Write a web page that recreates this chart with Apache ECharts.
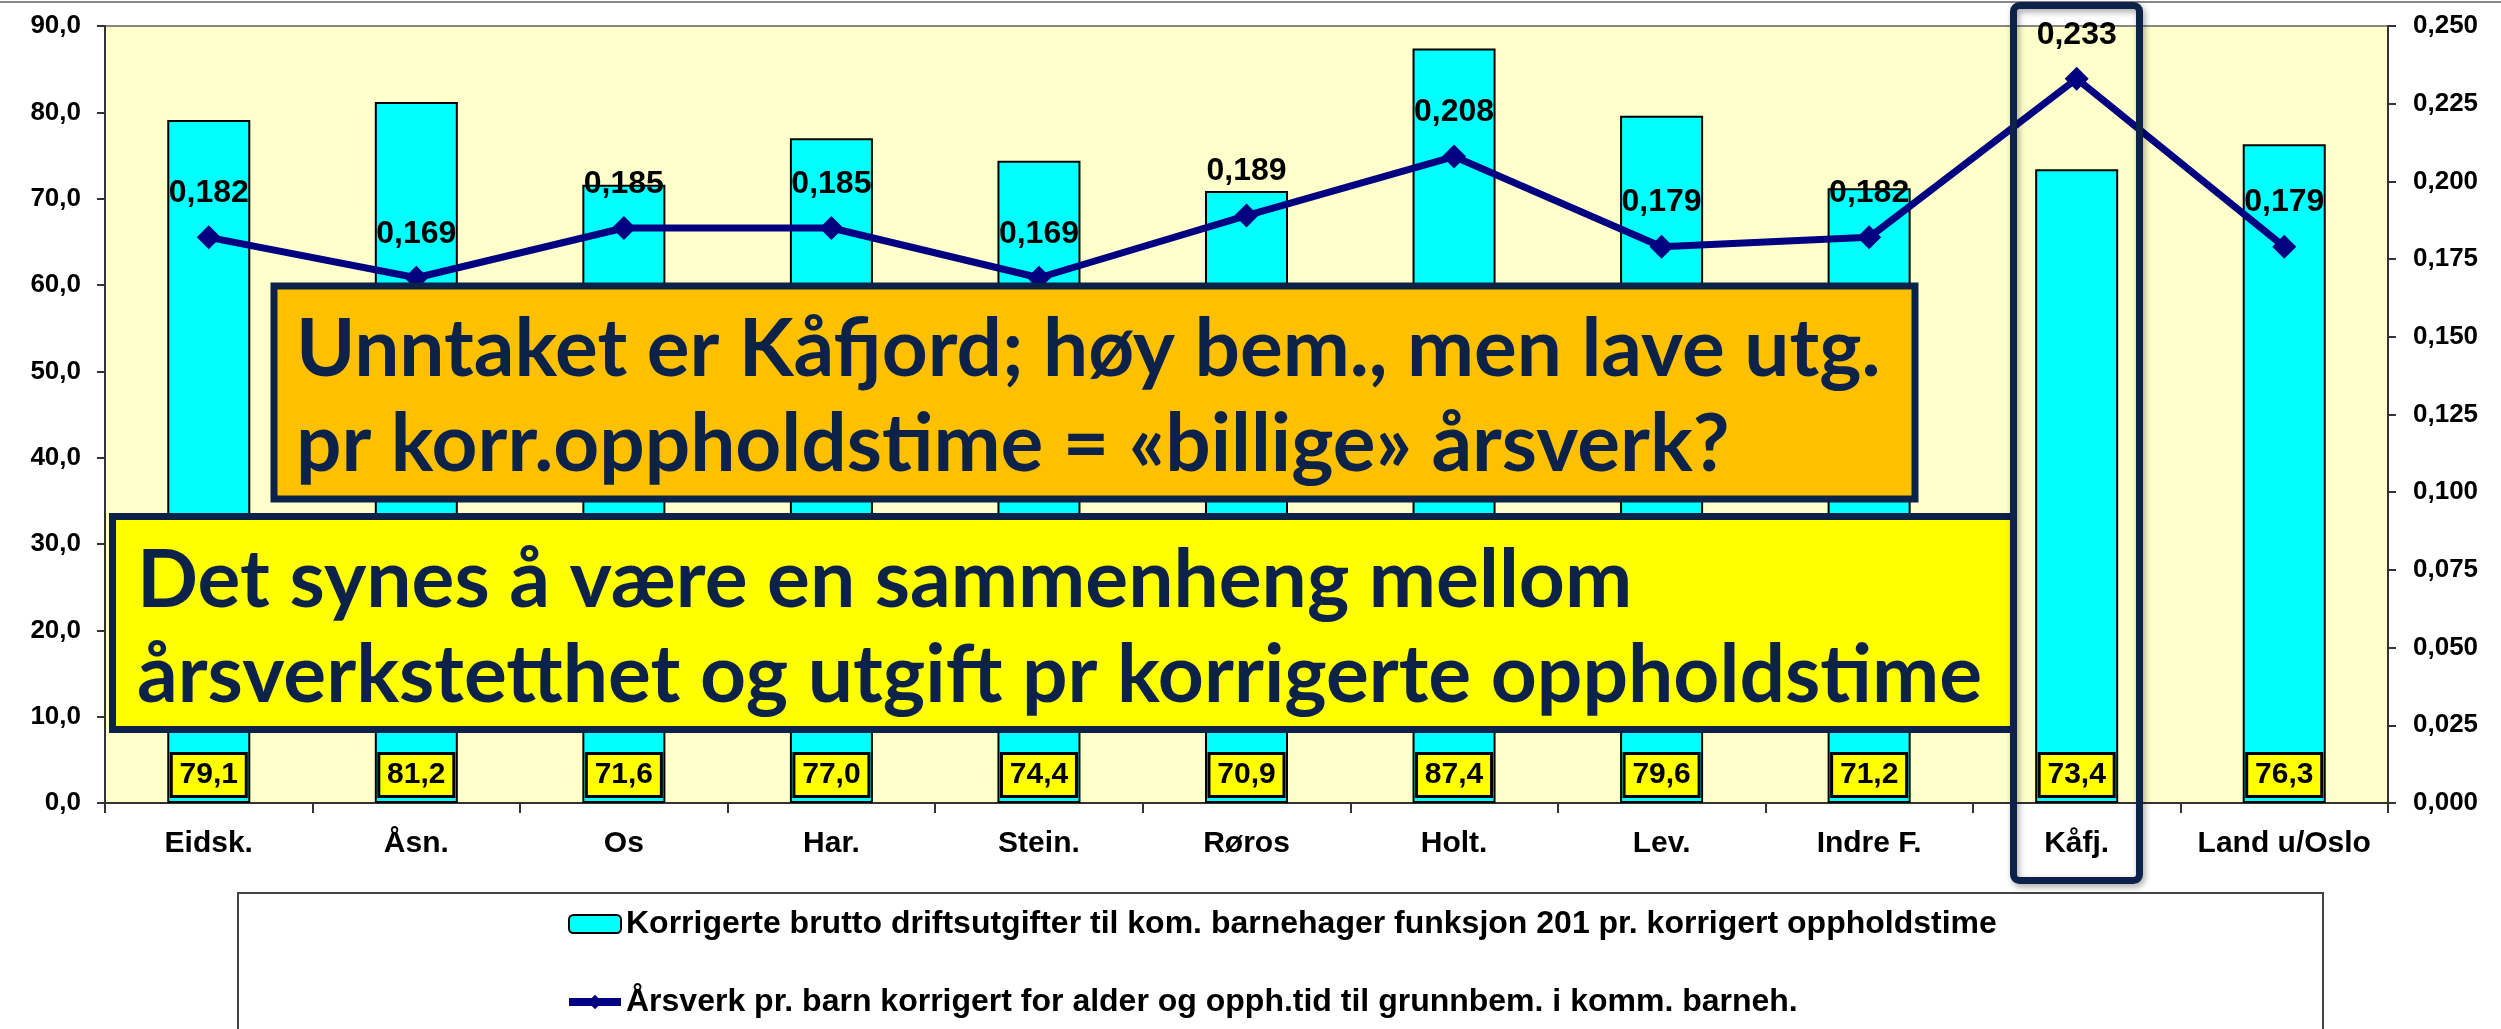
<!DOCTYPE html>
<html>
<head>
<meta charset="utf-8">
<script src="https://cdn.jsdelivr.net/npm/echarts@6/dist/echarts.min.js"></script>
<style>
html,body{margin:0;padding:0;background:#fff;}
#chart{width:2501px;height:1029px;}
</style>
</head>
<body>
<div id="chart"></div>
<script>
const categories = ['Eidsk.', 'Åsn.', 'Os', 'Har.', 'Stein.', 'Røros', 'Holt.', 'Lev.', 'Indre F.', 'Kåfj.', 'Land u/Oslo'];
const costValues = [79.1, 81.2, 71.6, 77.0, 74.4, 70.9, 87.4, 79.6, 71.2, 73.4, 76.3];
const staffValues = [0.182, 0.169, 0.185, 0.185, 0.169, 0.189, 0.208, 0.179, 0.182, 0.233, 0.179];
const costName = 'Korrigerte brutto driftsutgifter til kom. barnehager funksjon 201 pr. korrigert oppholdstime';
const staffName = 'Årsverk pr. barn korrigert for alder og opph.tid til grunnbem. i komm. barneh.';
const leftAxisTicks = { min: 0, max: 90, interval: 10 };
const rightAxisTicks = { min: 0, max: 0.25, interval: 0.025 };
const orangeLines = ['Unntaket er Kåfjord; høy bem., men lave utg.', 'pr korr.oppholdstime = «billige» årsverk?'];
const yellowLines = ['Det synes å være en sammenheng mellom', 'årsverkstetthet og utgift pr korrigerte oppholdstime'];

const ARIAL = 'Arial, "Liberation Sans", sans-serif';
const ANNO = 'Lato, "Open Sans", sans-serif';
const NAVY = '#0C2248';

function fitSize(text, family, target) {
  const ctx = document.createElement('canvas').getContext('2d');
  ctx.font = 'bold 100px ' + family;
  const w = ctx.measureText(text).width;
  return Math.round(100 * target / w * 10) / 10;
}
const orangeSize = fitSize(orangeLines[0], ANNO, 1585);
const yellowSize = fitSize(yellowLines[1], ANNO, 1846);

const comma = (v, d) => v.toFixed(d).replace('.', ',');

const chart = echarts.init(document.getElementById('chart'));
chart.setOption({
  backgroundColor: '#ffffff',
  animation: false,
  grid: { left: 105, right: 113, top: 26, bottom: 226, show: true, backgroundColor: '#FFFFCC', borderColor: '#888', borderWidth: 2 },
  legend: {
    orient: 'vertical', left: 565, top: 908, itemGap: 46, padding: 0,
    itemWidth: 52, itemHeight: 18,
    textStyle: { fontFamily: ARIAL, fontWeight: 'bold', fontSize: 32, color: '#000' },
    data: [
      { name: costName },
      { name: staffName, lineStyle: { width: 8, color: '#000080' }, itemStyle: { color: '#000080' } }
    ]
  },
  xAxis: {
    type: 'category', data: categories,
    axisLine: { lineStyle: { color: '#333', width: 2 } },
    axisTick: { show: true, length: 10, lineStyle: { color: '#333', width: 2 } },
    axisLabel: { interval: 0, fontFamily: ARIAL, fontWeight: 'bold', fontSize: 30, color: '#000', margin: 26 }
  },
  yAxis: [{
    type: 'value', min: leftAxisTicks.min, max: leftAxisTicks.max, interval: leftAxisTicks.interval,
    splitLine: { show: false },
    axisLine: { show: true, lineStyle: { color: '#333', width: 2 } },
    axisTick: { show: true, length: 8, lineStyle: { color: '#333', width: 2 } },
    axisLabel: { fontFamily: ARIAL, fontWeight: 'bold', fontSize: 26, color: '#000', margin: 24, formatter: v => comma(v, 1) }
  }, {
    type: 'value', min: rightAxisTicks.min, max: rightAxisTicks.max, interval: rightAxisTicks.interval,
    splitLine: { show: false },
    axisLine: { show: true, lineStyle: { color: '#333', width: 2 } },
    axisTick: { show: true, length: 8, lineStyle: { color: '#333', width: 2 } },
    axisLabel: { fontFamily: ARIAL, fontWeight: 'bold', fontSize: 26, color: '#000', margin: 25, formatter: v => comma(v, 3) }
  }],
  series: [{
    name: costName, type: 'bar', yAxisIndex: 0, data: costValues, barWidth: '40%',
    itemStyle: { color: '#00FFFF', borderColor: '#000', borderWidth: 2 },
    label: {
      show: true, position: 'insideBottom', distance: 8,
      formatter: p => comma(p.value, 1),
      fontFamily: ARIAL, fontWeight: 'bold', fontSize: 30, color: '#000',
      backgroundColor: '#FFFF00', borderColor: '#000', borderWidth: 3,
      width: 72, height: 40, lineHeight: 40, align: 'center', padding: 0
    },
    z: 2
  }, {
    name: staffName, type: 'line', yAxisIndex: 1, data: staffValues,
    symbol: 'diamond', symbolSize: 24,
    lineStyle: { color: '#000080', width: 7 },
    itemStyle: { color: '#000080' },
    label: { show: true, position: 'top', distance: 16, formatter: p => comma(p.value, 3),
      fontFamily: ARIAL, fontWeight: 'bold', fontSize: 32, color: '#000' },
    z: 3
  }],
  graphic: [
    { type: 'line', shape: { x1: 0, y1: 2, x2: 2501, y2: 2 }, style: { stroke: '#888', lineWidth: 2 }, z: 1 },
    { type: 'rect', shape: { x: 238, y: 893, width: 2085, height: 160 }, style: { fill: 'none', stroke: '#444', lineWidth: 2 }, z: 1 },
    { type: 'rect', z: 100, shape: { x: 274, y: 286, width: 1641, height: 213 }, style: { fill: '#FFC000', stroke: NAVY, lineWidth: 7 } },
    { type: 'text', z: 101, style: { text: orangeLines[0], x: 296, y: 350, fill: NAVY, font: 'bold ' + orangeSize + 'px ' + ANNO, verticalAlign: 'middle' } },
    { type: 'text', z: 101, style: { text: orangeLines[1], x: 296, y: 445, fill: NAVY, font: 'bold ' + orangeSize + 'px ' + ANNO, verticalAlign: 'middle' } },
    { type: 'rect', z: 100, shape: { x: 112.5, y: 516.5, width: 1901, height: 213 }, style: { fill: '#FFFF00', stroke: NAVY, lineWidth: 7 } },
    { type: 'text', z: 101, style: { text: yellowLines[0], x: 137, y: 581, fill: NAVY, font: 'bold ' + yellowSize + 'px ' + ANNO, verticalAlign: 'middle' } },
    { type: 'text', z: 101, style: { text: yellowLines[1], x: 137, y: 676, fill: NAVY, font: 'bold ' + yellowSize + 'px ' + ANNO, verticalAlign: 'middle' } },
    { type: 'rect', z: 102, shape: { x: 2013.5, y: 5.5, width: 126, height: 875, r: 6 },
      style: { fill: 'none', stroke: NAVY, lineWidth: 7, shadowBlur: 6, shadowColor: 'rgba(0,0,0,0.35)', shadowOffsetX: 2, shadowOffsetY: 3 } }
  ]
});
</script>
</body>
</html>
